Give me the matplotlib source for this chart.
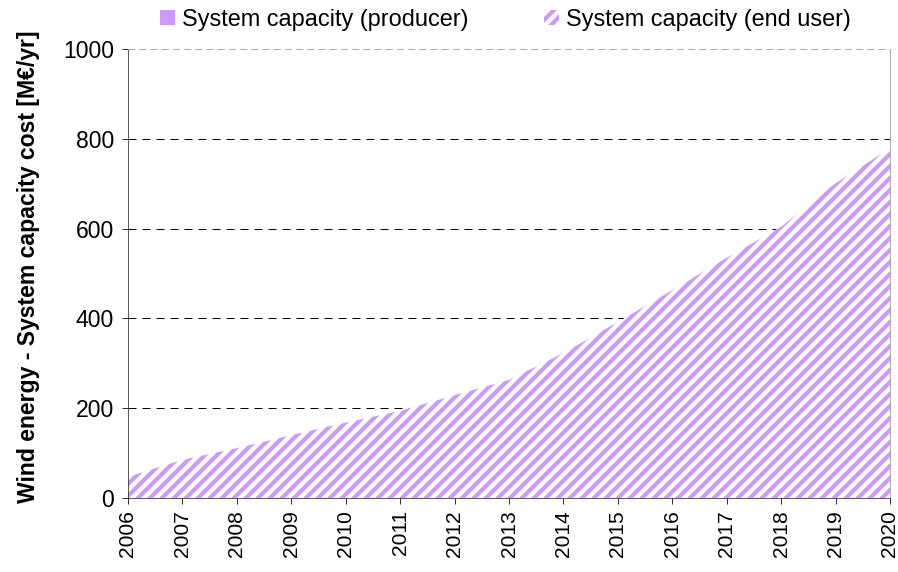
import numpy as np
import matplotlib
matplotlib.use('Agg')
import matplotlib.pyplot as plt

# годы и стоимость системной мощности, М€/год
years = np.arange(2006, 2021)
producer = [0, 0, 0, 0, 0, 0, 0, 0, 0, 0, 0, 0, 0, 0, 0]
end_user = [47, 85, 111, 140, 168, 194, 229, 263, 323, 392, 463, 535, 604, 701, 779]
labels = ['System capacity (producer)', 'System capacity (end user)']
yticks = [0, 200, 400, 600, 800, 1000]

lilac = '#CC99FF'
plt.rcParams['font.family'] = ['Liberation Sans', 'DejaVu Sans']
plt.rcParams['font.size'] = 23
plt.rcParams['hatch.color'] = lilac
plt.rcParams['hatch.linewidth'] = 4.2

fig = plt.figure(figsize=(898 / 72, 572 / 72), dpi=72)
ax = fig.add_axes([128 / 898, 1 - 498 / 572, 762 / 898, 449 / 572])

ax.stackplot(years, producer, end_user, colors=[lilac, 'white'],
             hatch=['', '//'], labels=labels)

ax.set_xlim(2006, 2020)
ax.set_ylim(0, 1000)
ax.set_xticks(years)
ax.set_xticklabels([str(y) for y in years], rotation=90, fontsize=21)
ax.set_yticks(yticks)
ax.tick_params(axis='both', direction='out', length=6, width=1, color='#333333')
ax.tick_params(axis='x', pad=6)
ax.tick_params(axis='y', pad=8)

# пунктирная сетка за областью
for y in yticks[1:-1]:
    ax.axhline(y, linestyle=(0, (8, 6)), color='black', linewidth=1, zorder=0.5)
ax.spines['top'].set_linestyle((0, (8, 6)))
ax.spines['top'].set_color('#999999')
ax.spines['right'].set_color('#999999')
ax.spines['left'].set_color('#333333')
ax.spines['bottom'].set_color('#333333')

ax.set_ylabel('Wind energy - System capacity cost [M€/yr]', fontweight='bold')
ax.yaxis.set_label_coords(-0.115, 0.515)

fig.legend(loc='center left', bbox_to_anchor=(160 / 898, 1 - 20 / 572), ncol=2,
           frameon=False, borderpad=0, borderaxespad=0, handlelength=0.65,
           handleheight=0.62, handletextpad=0.3, columnspacing=3.2,
           fontsize=23.5)

fig.savefig('out.png', dpi=72)
